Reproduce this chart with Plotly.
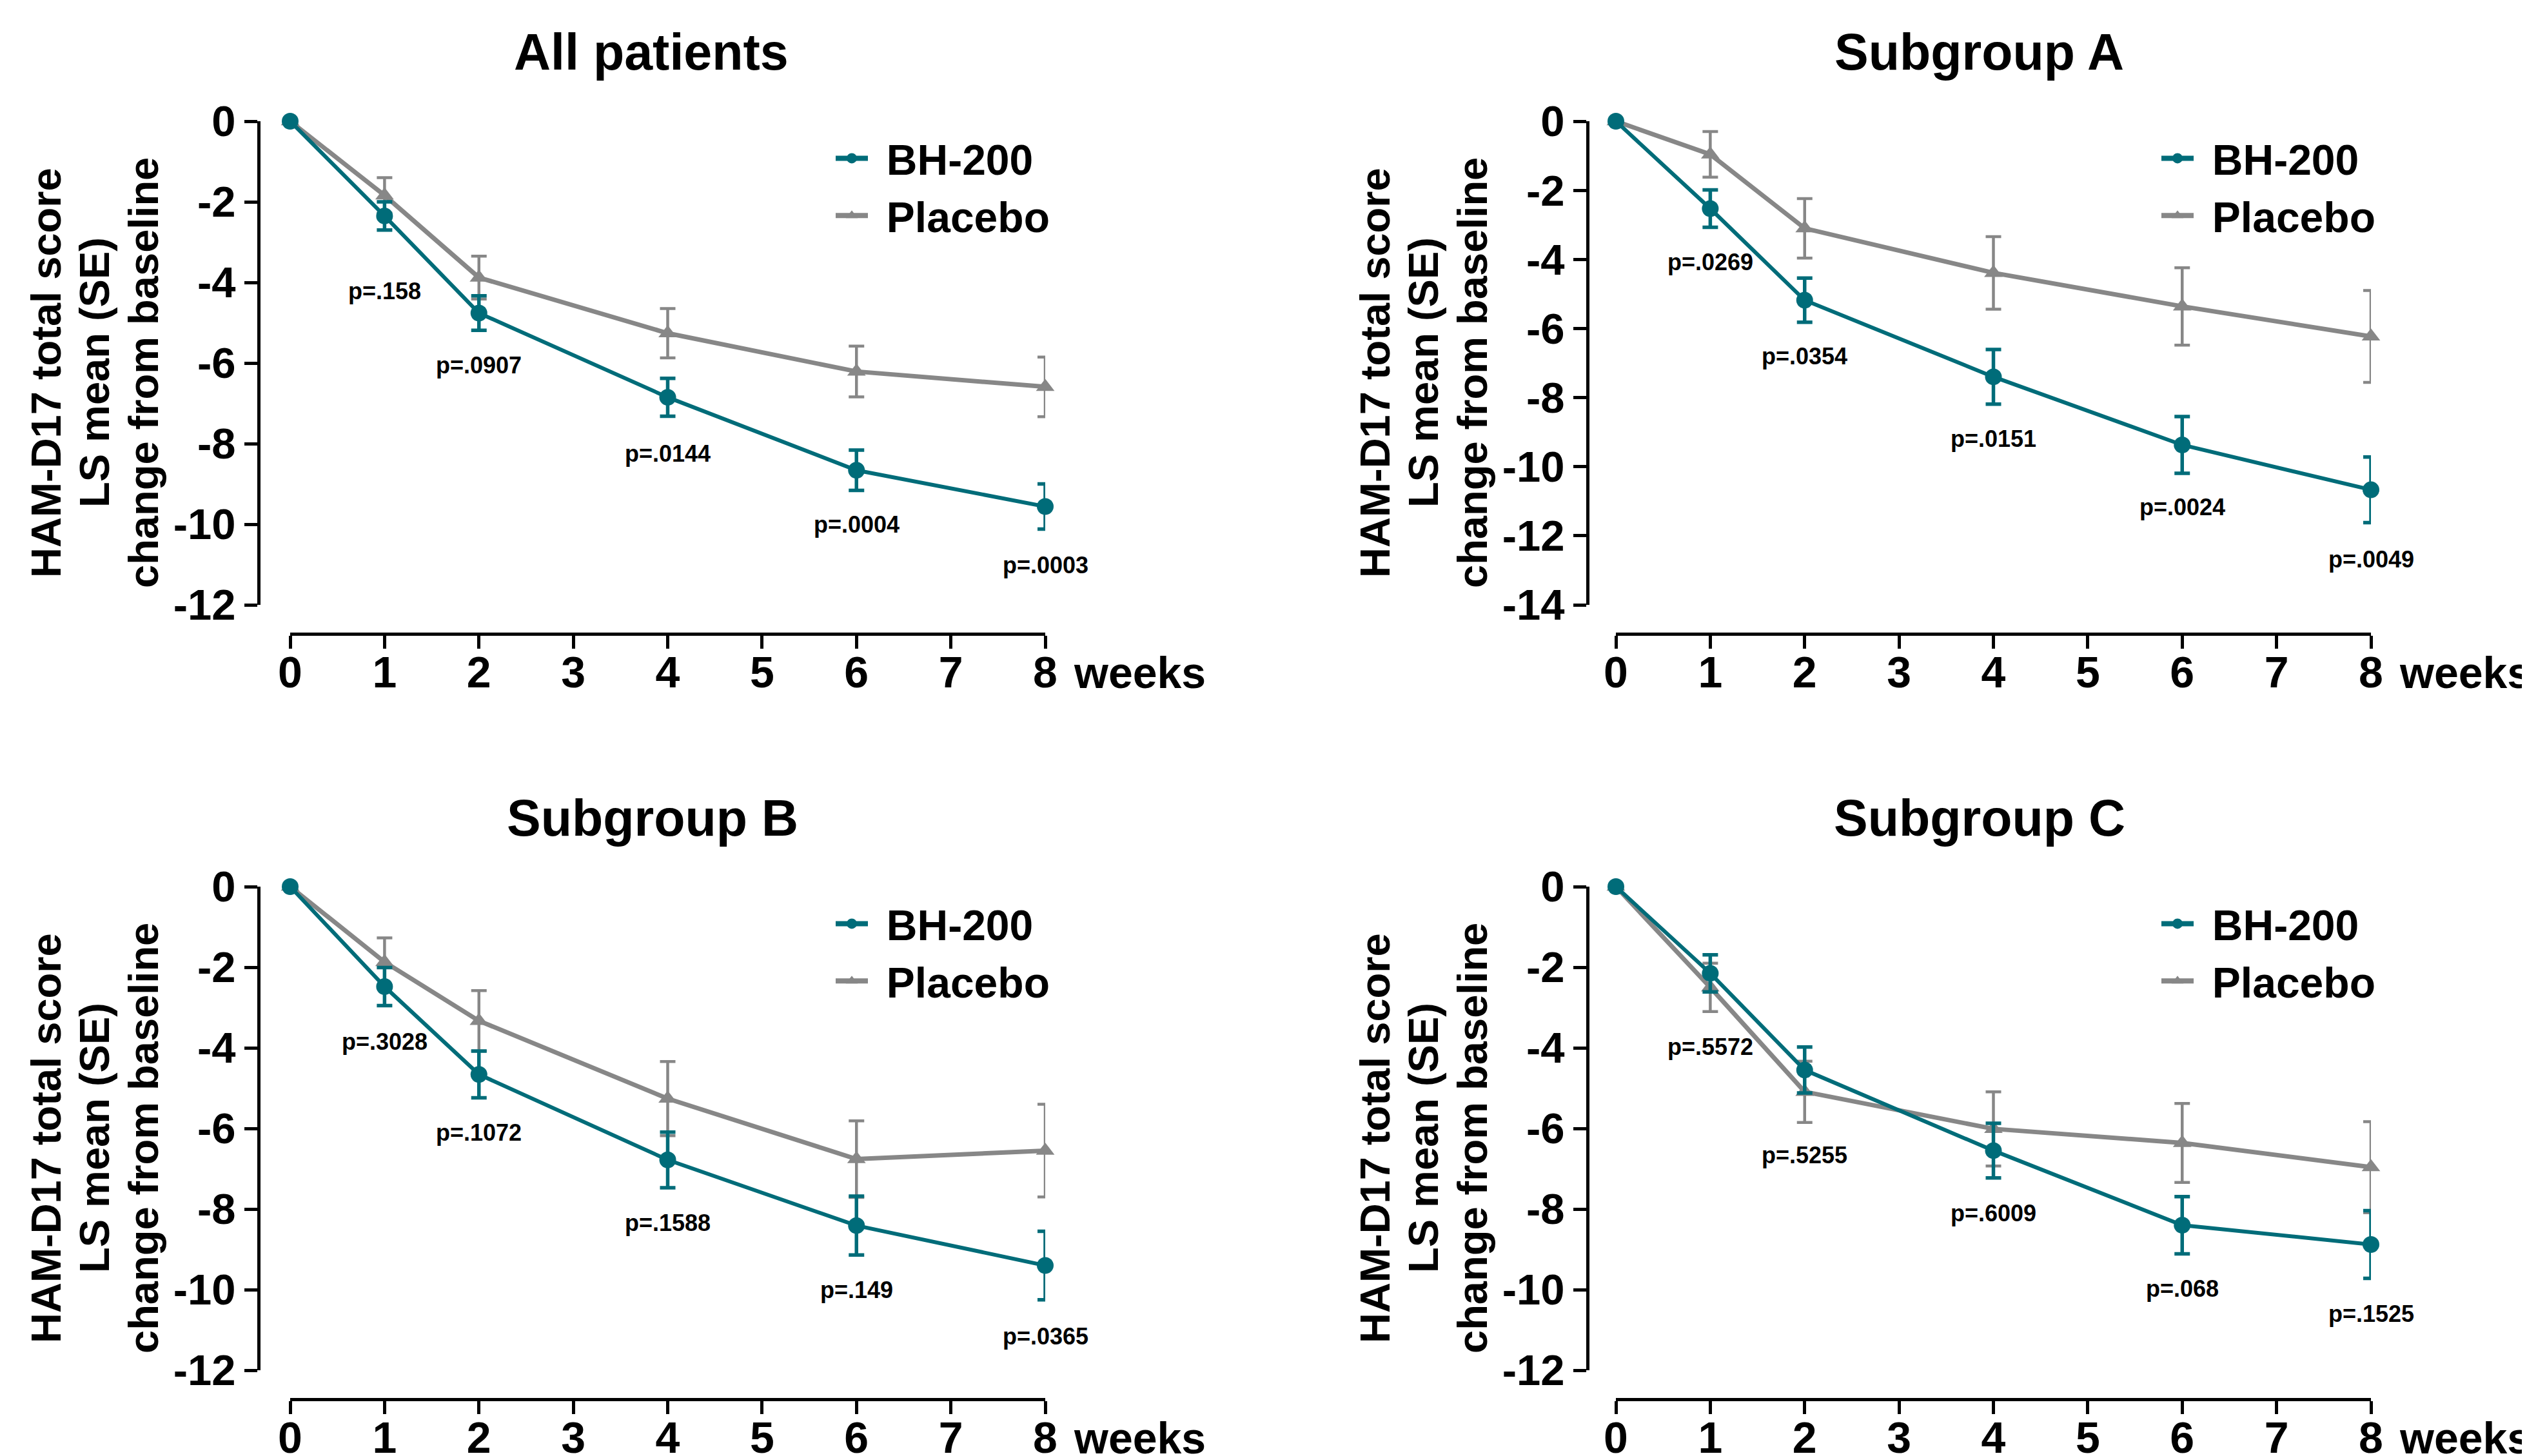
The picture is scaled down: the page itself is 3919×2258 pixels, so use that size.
import plotly.graph_objects as go

W, H = 3919, 2258
BODY = 8  # default page margin of the html body

# ---------------- data ----------------
weeks = [0, 1, 2, 4, 6, 8]
panel_titles = ["All patients", "Subgroup A", "Subgroup B", "Subgroup C"]
series_names = ["BH-200", "Placebo"]

all_bh = [0, -2.35, -4.76, -6.85, -8.66, -9.56]
all_bh_se = [None, 0.35, 0.43, 0.47, 0.50, 0.56]
all_pl = [0, -1.84, -3.88, -5.26, -6.21, -6.59]
all_pl_se = [None, 0.44, 0.53, 0.61, 0.63, 0.74]
all_p = ["p=.158", "p=.0907", "p=.0144", "p=.0004", "p=.0003"]
all_p_y = [-4.21, -6.05, -8.25, -10.01, -11.02]

a_bh = [0, -2.53, -5.18, -7.40, -9.37, -10.67]
a_bh_se = [None, 0.54, 0.64, 0.79, 0.82, 0.95]
a_pl = [0, -0.96, -3.10, -4.39, -5.36, -6.23]
a_pl_se = [None, 0.66, 0.86, 1.05, 1.12, 1.33]
a_p = ["p=.0269", "p=.0354", "p=.0151", "p=.0024", "p=.0049"]
a_p_y = [-4.08, -6.81, -9.19, -11.17, -12.69]

b_bh = [0, -2.48, -4.66, -6.78, -8.41, -9.40]
b_bh_se = [None, 0.47, 0.58, 0.69, 0.73, 0.85]
b_pl = [0, -1.87, -3.33, -5.26, -6.76, -6.55]
b_pl_se = [None, 0.60, 0.75, 0.92, 0.95, 1.15]
b_p = ["p=.3028", "p=.1072", "p=.1588", "p=.149", "p=.0365"]
b_p_y = [-3.85, -6.10, -8.35, -10.01, -11.16]

c_bh = [0, -2.15, -4.55, -6.55, -8.40, -8.88]
c_bh_se = [None, 0.46, 0.57, 0.68, 0.71, 0.84]
c_pl = [0, -2.50, -5.09, -6.01, -6.36, -6.96]
c_pl_se = [None, 0.60, 0.76, 0.92, 0.98, 1.13]
c_p = ["p=.5572", "p=.5255", "p=.6009", "p=.068", "p=.1525"]
c_p_y = [-3.97, -6.67, -8.11, -9.98, -10.6]

x_ticks = [0, 1, 2, 3, 4, 5, 6, 7, 8]
y_ticks_12 = [0, -2, -4, -6, -8, -10, -12]
y_ticks_14 = [0, -2, -4, -6, -8, -10, -12, -14]

y_title_lines = ["HAM-D17 total score", "LS mean (SE)", "change from baseline"]
x_unit = "weeks"

# ---------------- style ----------------
TEAL = "#006C79"
GRAY = "#878787"
FONT = "Liberation Sans, Arial, sans-serif"
GAP = "\u00a0\u200a"  # gap between legend symbol and legend text

# pixel layout of each panel (page pixels): x0px, x8px, y0px, ybottom_px, yaxis-line x, xaxis-line y
panels = [
    dict(x0=450, x1=1621, y0=188, y1=938, yl=401, xl=983, ymin=-12, yt=y_ticks_12,
         bh=all_bh, bhse=all_bh_se, pl=all_pl, plse=all_pl_se, p=all_p, py=all_p_y),
    dict(x0=2506, x1=3677, y0=188, y1=938, yl=2462, xl=983, ymin=-14, yt=y_ticks_14,
         bh=a_bh, bhse=a_bh_se, pl=a_pl, plse=a_pl_se, p=a_p, py=a_p_y),
    dict(x0=450, x1=1621, y0=1375, y1=2125, yl=401, xl=2170, ymin=-12, yt=y_ticks_12,
         bh=b_bh, bhse=b_bh_se, pl=b_pl, plse=b_pl_se, p=b_p, py=b_p_y),
    dict(x0=2506, x1=3677, y0=1375, y1=2125, yl=2462, xl=2170, ymin=-12, yt=y_ticks_12,
         bh=c_bh, bhse=c_bh_se, pl=c_pl, plse=c_pl_se, p=c_p, py=c_p_y),
]


def px(x):
    return (x - BODY) / W


def py(y):
    return 1 - (y - BODY) / H


fig = go.Figure()
layout = dict(
    width=W, height=H, autosize=False,
    margin=dict(l=0, r=0, t=0, b=0, pad=0, autoexpand=False),
    paper_bgcolor="white", plot_bgcolor="white",
    font=dict(family=FONT, color="black"),
    annotations=[],
)

title_pos = [(1010, 80), (3069, 80), (1012, 1268), (3070, 1268)]
ytitle_offsets = [-330, -255, -179]

for i, p in enumerate(panels):
    n = "" if i == 0 else str(i + 1)
    xa, ya = "x" + n, "y" + n
    lg = "legend" + n

    # placebo first (drawn below), BH-200 on top
    fig.add_trace(go.Scatter(
        x=weeks, y=p["pl"], name=series_names[1], xaxis=xa, yaxis=ya, showlegend=False,
        mode="lines+markers", cliponaxis=False,
        line=dict(color=GRAY, width=7),
        marker=dict(symbol="triangle-up", size=25, color=GRAY),
        error_y=dict(type="data", array=p["plse"], color=GRAY, thickness=4.5, width=12),
    ))
    fig.add_trace(go.Scatter(
        x=weeks, y=p["bh"], name=series_names[0], xaxis=xa, yaxis=ya, showlegend=False,
        mode="lines+markers", cliponaxis=False,
        line=dict(color=TEAL, width=6),
        marker=dict(symbol="circle", size=26, color=TEAL),
        error_y=dict(type="data", array=p["bhse"], color=TEAL, thickness=5.5, width=12),
    ))
    # legend entries (legend-only traces with thicker symbol lines)
    fig.add_trace(go.Scatter(
        x=[None], y=[None], name=GAP + series_names[0], xaxis=xa, yaxis=ya, legend=lg,
        legendrank=1, mode="lines+markers",
        line=dict(color=TEAL, width=8), marker=dict(symbol="circle", size=25, color=TEAL),
    ))
    fig.add_trace(go.Scatter(
        x=[None], y=[None], name=GAP + series_names[1], xaxis=xa, yaxis=ya, legend=lg,
        legendrank=2, mode="lines+markers",
        line=dict(color=GRAY, width=8), marker=dict(symbol="triangle-up", size=25, color=GRAY),
    ))

    layout["xaxis" + n] = dict(
        domain=[px(p["x0"]), px(p["x1"])], range=[0, 8], anchor="free",
        position=py(p["xl"]), showline=True, linewidth=5, linecolor="black",
        ticks="outside", ticklen=20, tickwidth=5, tickcolor="black",
        tickvals=x_ticks, ticktext=[str(v) for v in x_ticks], automargin=False,
        ticklabelstandoff=-22,
        tickfont=dict(family=FONT, size=68, color="black", weight="bold"),
        showgrid=False, zeroline=False, fixedrange=True,
    )
    layout["yaxis" + n] = dict(
        domain=[py(p["y1"]), py(p["y0"])], range=[p["ymin"], 0], anchor="free",
        position=px(p["yl"]), showline=True, linewidth=5, linecolor="black",
        ticks="outside", ticklen=20, tickwidth=5, tickcolor="black",
        tickvals=p["yt"], ticktext=[str(v) for v in p["yt"]], automargin=False,
        tickfont=dict(family=FONT, size=67, color="black", weight="bold"),
        showgrid=False, zeroline=False, fixedrange=True,
    )
    layout[lg] = dict(
        x=px(p["x1"] - 330), y=py(p["y0"] + 8), xanchor="left", yanchor="top",
        bgcolor="rgba(0,0,0,0)", borderwidth=0, itemwidth=50,
        font=dict(family=FONT, size=66, color="black", weight="bold"),
        tracegroupgap=0,
    )

    # p-values
    for k in range(len(p["p"])):
        layout["annotations"].append(dict(
            x=weeks[k + 1], y=p["py"][k], xref=xa, yref=ya, text=p["p"][k],
            showarrow=False, xanchor="center", yanchor="middle",
            font=dict(family=FONT, size=36, color="black", weight="bold"),
        ))
    # panel title
    tx, ty = title_pos[i]
    layout["annotations"].append(dict(
        x=px(tx), y=py(ty), xref="paper", yref="paper", text=panel_titles[i],
        showarrow=False, xanchor="center", yanchor="middle",
        font=dict(family=FONT, size=79, color="black", weight="bold"),
    ))
    # y title, one rotated line per annotation
    for line_text, off in zip(y_title_lines, ytitle_offsets):
        layout["annotations"].append(dict(
            x=px(p["yl"] + off), y=py(p["y0"] + 390), xref="paper", yref="paper",
            text=line_text, textangle=-90, showarrow=False,
            xanchor="center", yanchor="middle",
            font=dict(family=FONT, size=65, color="black", weight="bold"),
        ))
    # weeks label
    layout["annotations"].append(dict(
        x=px(p["x1"] + 42), y=py(p["xl"] + 60), xref="paper", yref="paper",
        text=x_unit, showarrow=False, xanchor="left", yanchor="middle",
        font=dict(family=FONT, size=68, color="black", weight="bold"),
    ))

fig.update_layout(**layout)
fig.write_html("out.html")
